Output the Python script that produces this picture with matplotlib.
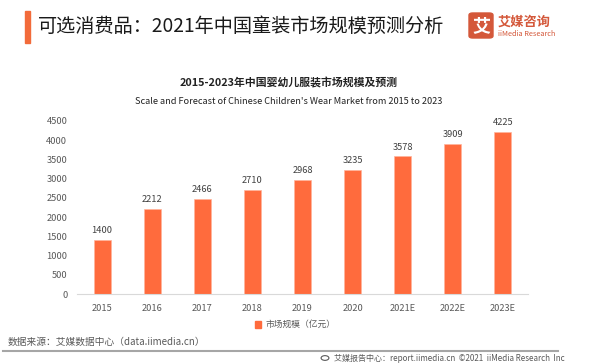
import matplotlib
matplotlib.use("Agg")
import matplotlib.pyplot as plt
from matplotlib.patches import FancyBboxPatch, Rectangle, Circle
from matplotlib.lines import Line2D

plt.rcParams['font.family'] = ['Noto Sans CJK SC', 'DejaVu Sans']

categories = ["2015", "2016", "2017", "2018", "2019", "2020", "2021E", "2022E", "2023E"]
market_size = [1400, 2212, 2466, 2710, 2968, 3235, 3578, 3909, 4225]
yticks = [0, 500, 1000, 1500, 2000, 2500, 3000, 3500, 4000, 4500]

W, H = 600, 363
fig = plt.figure(figsize=(W / 100, H / 100), dpi=100)

def fx(px):
    return px / W

def fy(py):
    return 1 - py / H

BAR = "#FF6B3D"
ax = fig.add_axes([fx(77), fy(294), fx(528) - fx(77), fy(121) - fy(294)])
x = range(len(categories))
ax.bar(x, market_size, width=0.34, color=BAR, edgecolor="#FFB59C", linewidth=0.5, zorder=2)
for xi, v in zip(x, market_size):
    ax.annotate(str(v), (xi, v), xytext=(0, 3.5), textcoords="offset points",
                ha="center", va="bottom", fontsize=6.7, color="#404040")
ax.set_xlim(-0.5, len(categories) - 0.5)
ax.set_ylim(0, 4500)
ax.set_yticks(yticks)
ax.set_xticks(list(x))
ax.set_xticklabels(categories)
ax.tick_params(axis="both", length=0, labelsize=6.7, labelcolor="#595959")
ax.tick_params(axis="y", pad=7)
ax.tick_params(axis="x", pad=7)
for s in ["top", "right", "left"]:
    ax.spines[s].set_visible(False)
ax.spines["bottom"].set_color("#D9D9D9")
ax.spines["bottom"].set_linewidth(0.8)

# Header
fig.add_artist(Rectangle((fx(25), fy(43)), fx(5), fy(11) - fy(43), color="#F26B3A",
                         transform=fig.transFigure))
fig.text(fx(38), fy(26), "可选消费品：2021年中国童装市场规模预测分析", fontsize=13.8,
         fontweight="medium", color="#1a1a1a", ha="left", va="center")

# Logo
LOGO = "#D4583A"
fig.add_artist(FancyBboxPatch((fx(469), fy(38)), fx(24), fy(13) - fy(38),
                              boxstyle="round,pad=0,rounding_size=0.006",
                              color=LOGO, transform=fig.transFigure))
fig.text(fx(481), fy(26), "艾", fontsize=13, fontweight="bold", color="white",
         ha="center", va="center")
fig.text(fx(498), fy(22), "艾媒咨询", fontsize=9.5, fontweight="bold", color=LOGO,
         ha="left", va="center")
fig.text(fx(498), fy(34.5), "iiMedia Research", fontsize=5.3, color=LOGO,
         ha="left", va="center")

# Chart titles
fig.text(fx(289), fy(83), "2015-2023年中国婴幼儿服装市场规模及预测", fontsize=7.8,
         fontweight="bold", color="#222222", ha="center", va="center")
fig.text(fx(289), fy(102), "Scale and Forecast of Chinese Children's Wear Market from 2015 to 2023",
         fontsize=6.6, color="#222222", ha="center", va="center")

# Legend
fig.add_artist(Rectangle((fx(255), fy(327.5)), fx(6), fy(320.5) - fy(327.5), color=BAR,
                         transform=fig.transFigure))
fig.text(fx(265), fy(324), "市场规模（亿元）", fontsize=6.3, color="#595959",
         ha="left", va="center")

# Source and footer
fig.text(fx(8), fy(341.5), "数据来源：艾媒数据中心（data.iimedia.cn）", fontsize=7,
         color="#595959", ha="left", va="center")
fig.add_artist(Line2D([fx(3), fx(558)], [fy(351), fy(351)], color="#A6A6A6", linewidth=1.5,
                      transform=fig.transFigure))
fig.add_artist(Circle((fx(325), fy(358)), 0.0065, facecolor="none", edgecolor="#595959",
                      linewidth=0.8, transform=fig.transFigure))
fig.text(fx(565), fy(358), "艾媒报告中心：report.iimedia.cn  ©2021  iiMedia Research  Inc",
         fontsize=5.8, color="#595959", ha="right", va="center")

fig.savefig("out.png", dpi=100)
